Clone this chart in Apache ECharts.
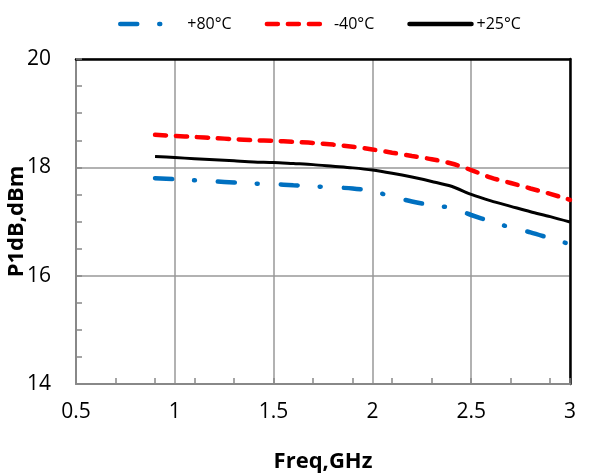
<!DOCTYPE html>
<html>
<head>
<meta charset="utf-8">
<script src="https://cdn.jsdelivr.net/npm/echarts@6/dist/echarts.min.js"></script>
<style>
  html, body { margin: 0; padding: 0; background: #fff; }
  #chart { width: 590px; height: 475px; }
</style>
</head>
<body>
<div id="chart"></div>
<script>
// frequency points, GHz
const freq = [0.9, 1.0, 1.1, 1.2, 1.3, 1.4, 1.5, 1.6, 1.7, 1.8, 1.9, 2.0, 2.1, 2.2, 2.3, 2.4, 2.5, 2.6, 2.7, 2.8, 2.9, 3.0];
// P1dB, dBm
const p80 = [17.8, 17.78, 17.76, 17.74, 17.72, 17.7, 17.69, 17.67, 17.65, 17.63, 17.61, 17.56, 17.46, 17.37, 17.3, 17.25, 17.12, 17.0, 16.89, 16.8, 16.69, 16.58];
const pm40 = [18.6, 18.58, 18.56, 18.54, 18.52, 18.5, 18.49, 18.47, 18.45, 18.42, 18.38, 18.33, 18.27, 18.21, 18.15, 18.07, 17.95, 17.81, 17.71, 17.61, 17.51, 17.4];
const p25 = [18.2, 18.18, 18.16, 18.14, 18.12, 18.1, 18.09, 18.07, 18.05, 18.02, 17.99, 17.95, 17.89, 17.82, 17.74, 17.65, 17.5, 17.38, 17.28, 17.18, 17.09, 16.99];
const names = ['+80°C', '-40°C', '+25°C'];

const font = '"Open Sans", "Liberation Sans", sans-serif';
const pairs = (ys) => freq.map((f, i) => [f, ys[i]]);

const chart = echarts.init(document.getElementById('chart'));
chart.setOption({
  animation: false,
  textStyle: { fontFamily: font },
  legend: {
    top: 11, left: 113,
    itemWidth: 62, itemHeight: 8, itemGap: 33,
    itemStyle: { opacity: 0 },
    lineStyle: { width: 4.5, cap: 'round' },
    textStyle: { fontSize: 16, color: '#000', fontFamily: font },
    data: names
  },
  grid: { left: 76, right: 20, top: 59, bottom: 91, containLabel: false, outerBoundsMode: 'none' },
  xAxis: [
    {
      type: 'value', min: 0.5, max: 3, interval: 0.5,
      name: 'Freq,GHz', nameLocation: 'middle', nameGap: 67, nameMoveOverlap: false,
      nameTextStyle: { fontSize: 22, fontWeight: 'bold', color: '#000', fontFamily: font },
      axisLine: { lineStyle: { color: '#888', width: 2 } },
      axisTick: { show: false },
      axisLabel: { fontSize: 21, color: '#000', margin: 18 },
      splitLine: { lineStyle: { color: '#999', width: 1.5 } }
    },
    {
      type: 'value', min: 0.5, max: 3, position: 'top',
      axisLine: { onZero: false, lineStyle: { color: '#000', width: 2.5 } },
      axisTick: { show: false }, axisLabel: { show: false }, splitLine: { show: false }
    },
    {
      // minor ticks every 0.2 counted from 0.5 (offset axis)
      type: 'value', min: 0, max: 2.5, interval: 0.2, position: 'bottom',
      axisLine: { show: false },
      axisTick: { show: true, inside: true, length: 6, lineStyle: { color: '#888', width: 1.5 } },
      axisLabel: { show: false }, splitLine: { show: false }
    }
  ],
  yAxis: [
    {
      type: 'value', min: 14, max: 20, interval: 2,
      name: 'P1dB,dBm', nameLocation: 'middle', nameGap: 48, nameMoveOverlap: false,
      nameTextStyle: { fontSize: 22, fontWeight: 'bold', color: '#000', fontFamily: font },
      axisLine: { show: true, lineStyle: { color: '#888', width: 2 } },
      axisTick: { show: true, inside: true, length: 6, lineStyle: { color: '#888', width: 1.5 } },
      minorTick: { show: true, splitNumber: 4, length: 6, lineStyle: { color: '#888', width: 1.5 } },
      axisLabel: { fontSize: 21, color: '#000', margin: 25 },
      splitLine: { lineStyle: { color: '#999', width: 1.5 } }
    },
    {
      type: 'value', min: 14, max: 20, position: 'right',
      axisLine: { show: true, onZero: false, lineStyle: { color: '#000', width: 2.5 } },
      axisTick: { show: false }, axisLabel: { show: false }, splitLine: { show: false }
    }
  ],
  series: [
    {
      name: names[0], type: 'line', smooth: 0.3, symbol: 'none',
      data: pairs(p80),
      lineStyle: { color: '#0070C0', width: 4.5, type: [17, 22, 1, 23], cap: 'round' },
      itemStyle: { color: '#0070C0' }
    },
    {
      name: names[1], type: 'line', smooth: 0.3, symbol: 'none',
      data: pairs(pm40),
      lineStyle: { color: '#FF0000', width: 4.5, type: [11, 10], cap: 'round' },
      itemStyle: { color: '#FF0000' }
    },
    {
      name: names[2], type: 'line', smooth: 0.3, symbol: 'none',
      data: pairs(p25),
      lineStyle: { color: '#000', width: 3 },
      itemStyle: { color: '#000' }
    }
  ]
});
</script>
</body>
</html>
